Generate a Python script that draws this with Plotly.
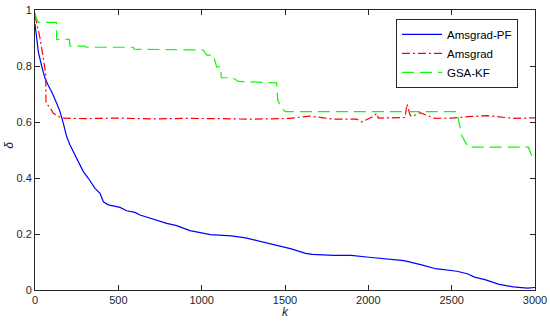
import plotly.graph_objects as go

# Amsgrad-PF (blue)
pf_k = [0, 5, 10, 20, 40, 60, 80, 100, 130, 150, 170, 190, 210, 240, 270, 290, 320, 360, 390, 410,
        440, 510, 550, 600, 630, 710, 790, 850, 930, 1052, 1137, 1179, 1264, 1369, 1475, 1538, 1623,
        1665, 1792, 1897, 2003, 2108, 2214, 2320, 2404, 2531, 2594, 2637, 2700, 2785, 2870, 2954, 3000]
pf_d = [0.95, 0.92, 0.90, 0.85, 0.80, 0.756, 0.73, 0.708, 0.667, 0.637, 0.595, 0.548, 0.518, 0.482,
        0.446, 0.423, 0.399, 0.363, 0.345, 0.315, 0.304, 0.295, 0.283, 0.277, 0.268, 0.252, 0.238,
        0.23, 0.212, 0.198, 0.194, 0.193, 0.186, 0.170, 0.156, 0.147, 0.131, 0.127, 0.124, 0.124,
        0.117, 0.110, 0.105, 0.090, 0.076, 0.067, 0.058, 0.046, 0.037, 0.020, 0.011, 0.007, 0.009]

# Amsgrad (red)
am_k = [0, 14, 30, 50, 64, 66, 90, 110, 150, 160, 300, 500, 700, 900, 1100, 1300, 1530, 1650, 1730,
        1790, 1930, 1960, 2030, 2050, 2060, 2220, 2232, 2250, 2260, 2310, 2400, 2500, 2600, 2710,
        2870, 3000]
am_d = [0.98, 0.94, 0.90, 0.827, 0.774, 0.667, 0.652, 0.631, 0.617, 0.614, 0.612, 0.614, 0.611,
        0.613, 0.612, 0.610, 0.613, 0.621, 0.615, 0.610, 0.610, 0.600, 0.620, 0.631, 0.614, 0.616,
        0.664, 0.625, 0.619, 0.633, 0.613, 0.614, 0.619, 0.623, 0.613, 0.615]

# GSA-KF (green)
gs_k = [0, 8, 20, 48, 128, 130, 134, 206, 210, 214, 300, 305, 590, 595, 1010, 1030, 1070, 1090,
        1114, 1118, 1186, 1220, 1450, 1456, 1470, 1500, 2530, 2550, 2560, 2580, 2600, 2960, 2980, 3000]
gs_d = [0.99, 0.97, 0.956, 0.956, 0.956, 0.895, 0.895, 0.895, 0.871, 0.871, 0.871, 0.867, 0.867,
        0.86, 0.857, 0.839, 0.839, 0.797, 0.797, 0.758, 0.758, 0.745, 0.740, 0.680, 0.660, 0.637,
        0.637, 0.583, 0.553, 0.530, 0.51, 0.51, 0.48, 0.47]

x_ticks = [0, 500, 1000, 1500, 2000, 2500, 3000]
y_ticks = [0, 0.2, 0.4, 0.6, 0.8, 1]
x_title = "k"
y_title = "δ"

FONT = "Liberation Sans, Arial, sans-serif"
AX = "#262626"

fig = go.Figure()
fig.add_trace(go.Scatter(x=pf_k, y=pf_d, mode="lines", name="Amsgrad-PF",
                         line=dict(color="#0000FF", width=1.2)))
fig.add_trace(go.Scatter(x=am_k, y=am_d, mode="lines", name="Amsgrad",
                         line=dict(color="#FF0000", width=1.2, dash="8px,3px,2px,3px")))
fig.add_trace(go.Scatter(x=gs_k, y=gs_d, mode="lines", name="GSA-KF",
                         line=dict(color="#00FF00", width=1.2, dash="12px,6px")))

axis_common = dict(showgrid=False, zeroline=False, showline=True, linecolor=AX, linewidth=1,
                   mirror="ticks", ticks="inside", ticklen=5, tickcolor=AX, tickwidth=1,
                   automargin=False, ticklabeloverflow="allow",
                   tickfont=dict(family=FONT, size=11, color=AX))

fig.update_xaxes(range=[0, 3000], tickvals=x_ticks, **axis_common)
fig.update_yaxes(range=[0, 1], tickvals=y_ticks, **axis_common)

# axis titles as annotations for exact placement
fig.add_annotation(text=f"<i>{x_title}</i>", xref="paper", yref="paper", x=0.5, y=-0.08,
                   xanchor="center", yanchor="middle", showarrow=False,
                   font=dict(family=FONT, size=12, color=AX))
fig.add_annotation(text=f"<i>{y_title}</i>", xref="paper", yref="paper", x=-0.052, y=0.515,
                   xanchor="center", yanchor="middle", showarrow=False, textangle=-90,
                   font=dict(family=FONT, size=12, color=AX))

fig.update_layout(
    width=550, height=323,
    margin=dict(l=35, r=15, t=10, b=33),
    paper_bgcolor="white", plot_bgcolor="white",
    font=dict(family=FONT, color=AX),
    legend=dict(x=0.722, y=0.968, xanchor="left", yanchor="top",
                bgcolor="white", bordercolor=AX, borderwidth=1,
                font=dict(family=FONT, size=11.5, color="black"),
                tracegroupgap=0, itemwidth=40),
    showlegend=True,
)

# remove the browser's default 8px page margin so the figure sits at the window origin
fig.write_html("out.html", config={"displayModeBar": False},
               post_script="document.body.style.margin='0';document.body.style.overflow='hidden';")
